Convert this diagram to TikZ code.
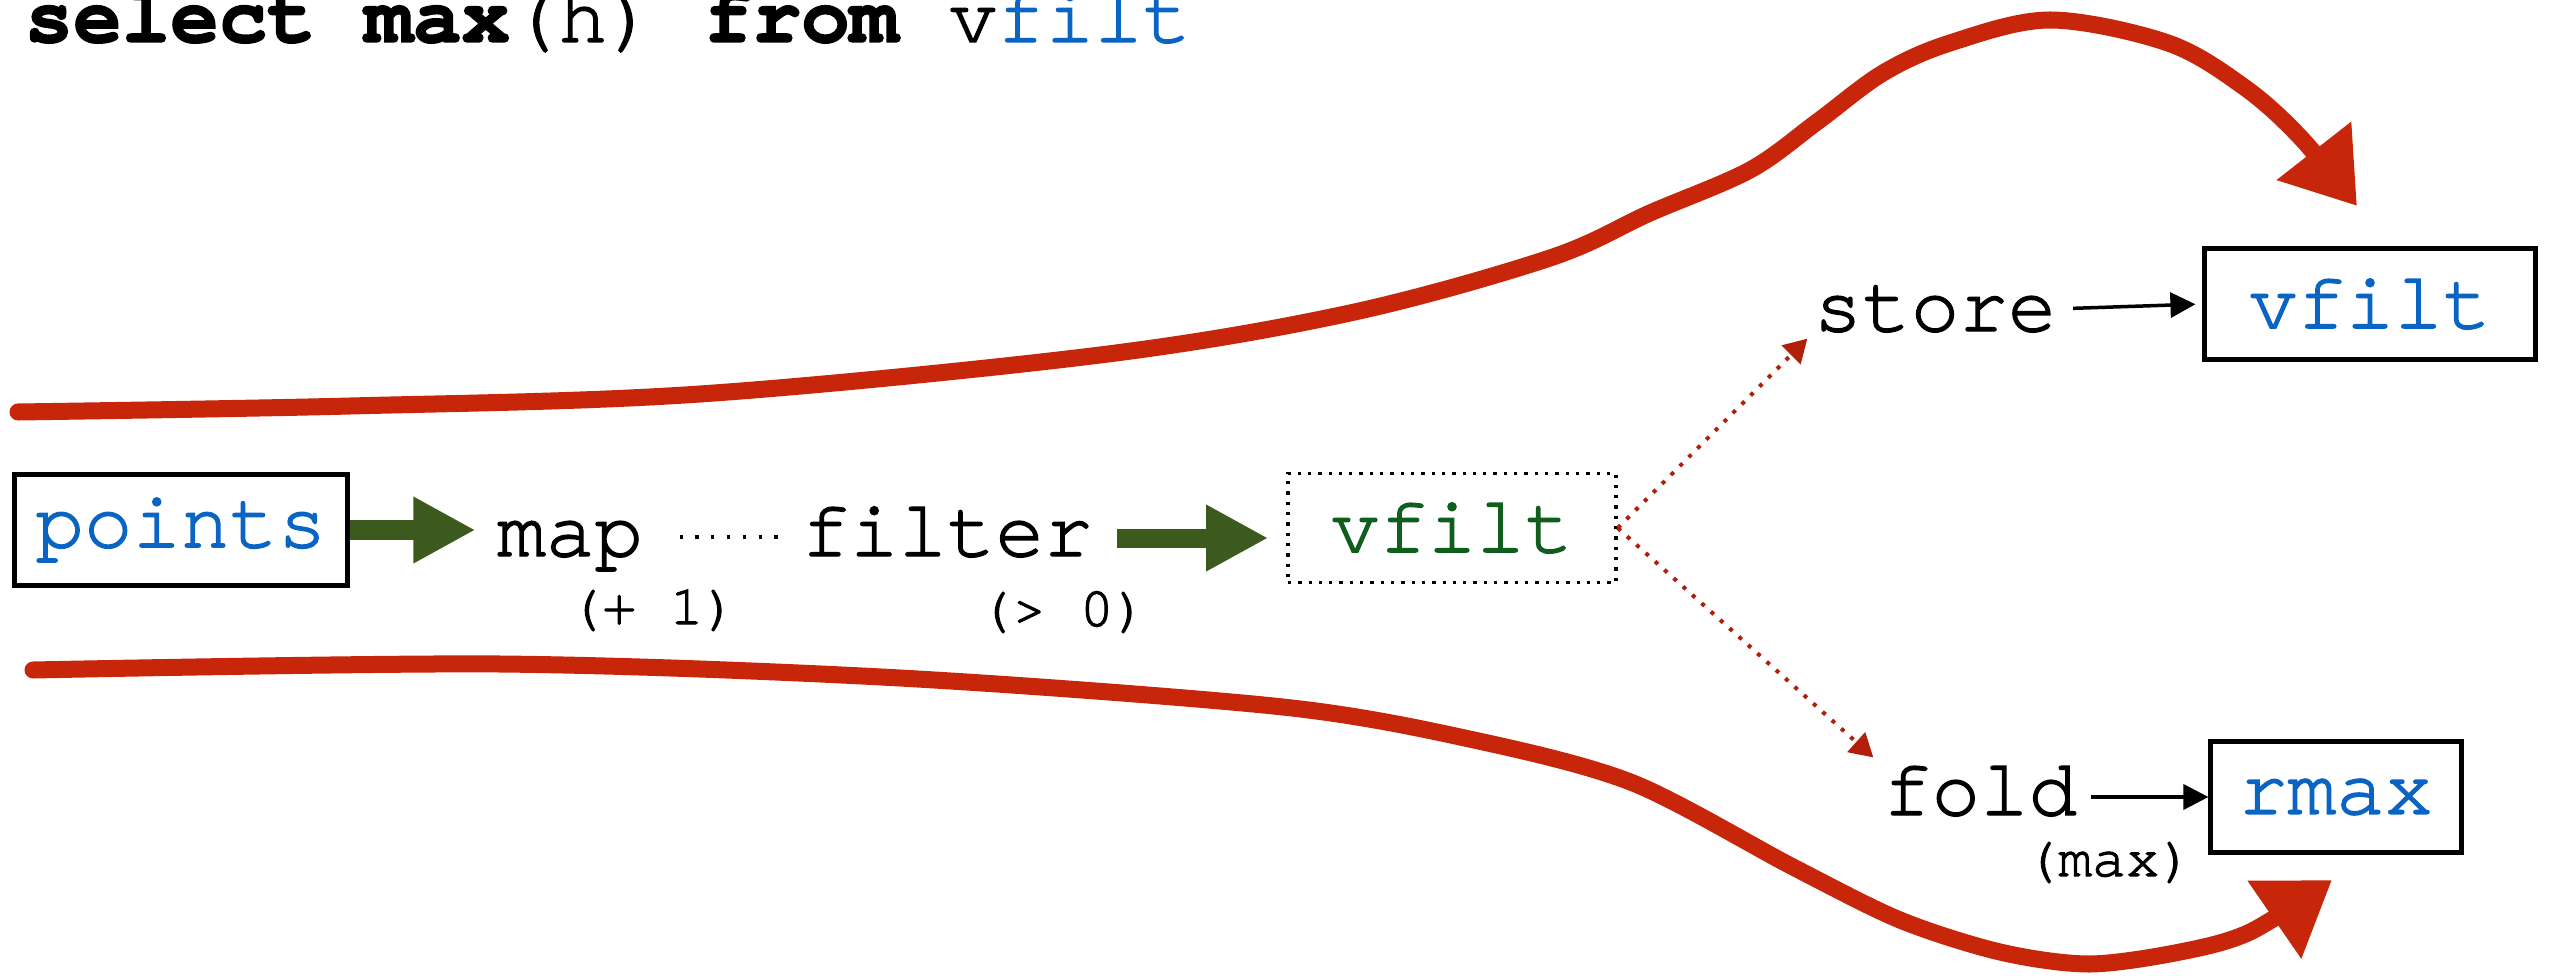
\documentclass[tikz,border=0pt]{standalone}
\usepackage{fontspec}
\setmonofont{TeX Gyre Cursor}[FakeBold=1.8,Ligatures={NoCommon,NoRequired}]
\usepackage{tikz}
\usetikzlibrary{arrows.meta}

\definecolor{codeblue}{RGB}{10,100,195}
\definecolor{codegreen}{RGB}{16,94,30}
\definecolor{flowgreen}{RGB}{60,90,30}
\definecolor{chalkred}{RGB}{200,38,10}
\definecolor{dotred}{RGB}{178,30,8}

\begin{document}
\begin{tikzpicture}[x=0.01cm,y=-0.01cm,
  every node/.style={font=\ttfamily\fontsize{23}{26}\selectfont},
  word/.style={inner sep=0pt,anchor=base},
  opnote/.style={inner sep=0pt,anchor=base,font=\ttfamily\fontsize{16}{19}\selectfont},
  tablebox/.style={draw,line width=0.05cm,minimum width=3.3cm,minimum height=1.1cm,text=codeblue},
  tempbox/.style={draw,line width=0.033cm,dash pattern=on 0.033cm off 0.07cm,minimum width=3.28cm,minimum height=1.09cm,text=codegreen},
  flow/.style={draw=flowgreen,line width=0.19cm,-{Triangle[length=6.2mm,width=6.2mm]}},
  branch/.style={draw=dotred,line width=0.04cm,dash pattern=on 0.04cm off 0.085cm,-{Triangle[length=2.3mm,width=2.6mm]}},
  push/.style={draw=black,line width=0.035cm,-{Triangle[length=2.5mm,width=2.5mm]}},
  swoosh/.style={draw=chalkred,line width=0.17cm,line cap=round,-{Triangle[length=7mm,width=9mm]}}]

\useasboundingbox (0,0) rectangle (2555,976);

\node[anchor=base west,inner sep=0pt] (query) at (24,42) {\textbf{select max}(h) \textbf{from} v\textcolor{codeblue}{filt}};

\draw[swoosh] plot[smooth,tension=0.55] coordinates {(18,412) (350,406) (700,394) (1100,355) (1350,313) (1550,258) (1650,213) (1750,170) (1817,122) (1883,73) (1950,43) (2050,20) (2168,43) (2244,87) (2300,137) (2357,206)};
\draw[swoosh] plot[smooth,tension=0.5] coordinates {(33,670) (500,664) (900,678) (1283,707) (1474,740) (1633,783) (1793,867) (1900,920) (2000,952) (2089,964) (2180,952) (2250,932) (2332,880)};

\node[tablebox,minimum width=3.32cm] (points) at (181,530) {points};
\node[word] (map) at (570,556) {map};
\node[opnote] (plusone) at (653,624) {(+ 1)};
\node[word] (filter) at (947,556) {filter};
\node[opnote] (gtzero) at (1063,626) {(> 0)};
\node[tempbox] (vfiltmid) at (1452,528) {vfilt};
\node[word] (store) at (1935,331) {store};
\node[tablebox] (vstore) at (2370,304) {vfilt};
\node[word] (fold) at (1980,815) {fold};
\node[opnote] (maxfn) at (2109,876) {(max)};
\node[tablebox,minimum width=2.5cm] (rmax) at (2336,797) {rmax};

\coordinate (flowin) at ([yshift=-0.1cm]vfiltmid.west);

\draw[flow,shorten >=0.21cm] (points.east) -- (points.east -| map.west);
\draw[line width=0.9pt,dash pattern=on 0.9pt off 3.6pt] ([xshift=0.36cm,yshift=0.19cm]map.base east) -- ([xshift=-0.23cm,yshift=0.19cm]filter.base west);
\draw[flow,shorten <=0.24cm,shorten >=0.18cm] (filter.east |- flowin) -- (flowin);
\draw[branch,shorten >=0.08cm] (vfiltmid.east) -- (store.south west);
\draw[branch,shorten >=0.12cm] (vfiltmid.east) -- (fold.north west);
\draw[push,shorten <=0.16cm,shorten >=0.07cm] (store.east) -- (vstore.west);
\draw[push,shorten <=0.13cm] (fold.east |- rmax.west) -- (rmax.west);

\end{tikzpicture}
\end{document}
